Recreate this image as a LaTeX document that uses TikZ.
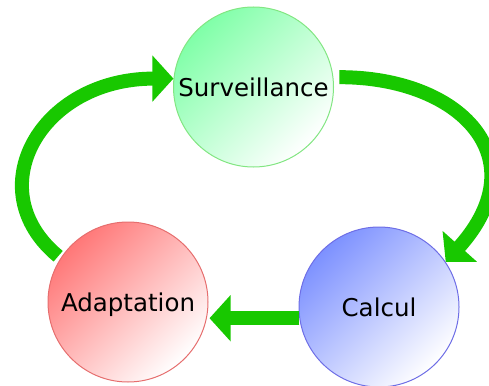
\documentclass[tikz,border=0pt]{standalone}
\usepackage{fontspec}
\setmainfont{DejaVu Sans}
\usetikzlibrary{arrows.meta,calc}
\definecolor{arrowgreen}{RGB}{24,200,0}
\definecolor{gtop}{RGB}{128,255,168}
\definecolor{gborder}{RGB}{130,230,130}
\definecolor{rtop}{RGB}{255,120,120}
\definecolor{rborder}{RGB}{230,110,110}
\definecolor{btop}{RGB}{125,145,255}
\definecolor{bborder}{RGB}{110,110,230}
\tikzset{
  stage/.style={circle, minimum size=160pt, inner sep=0pt, line width=1pt,
    font=\fontsize{24.5}{28}\selectfont, text height=18pt, text depth=0pt},
  flow/.style={draw=arrowgreen, line width=14pt,
    -{Triangle[length=21pt,width=45pt]}, arrowgreen},
}
\begin{document}
\begin{tikzpicture}[x=1pt,y=-1pt]
\useasboundingbox (0,0) rectangle (489,385);
\node[stage, draw=gborder, top color=gtop, bottom color=white, shading angle=45] (S) at (253.5,87) {Surveillance};
\node[stage, draw=bborder, top color=btop, bottom color=white, shading angle=45] (C) at (379,307) {Calcul};
\node[stage, draw=rborder, top color=rtop, bottom color=white, shading angle=45] (A) at (128,302) {Adaptation};
% Adaptation -> Surveillance
\draw[flow, shorten <=3pt] (A.147) .. controls (-22,190) and (40,78.6) .. (S.174);
% Surveillance -> Calcul
\draw[flow, shorten <=6pt] (S.7) .. controls (460,77) and (539,158) .. (C.34);
% Calcul -> Adaptation
\draw[flow, shorten >=2.5pt] (C.188) -- (C.188 -| A.-11);
\end{tikzpicture}
\end{document}
